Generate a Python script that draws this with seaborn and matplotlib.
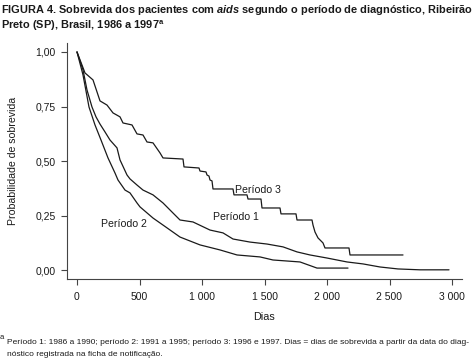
#!/usr/bin/env python3
"""
Kaplan-Meier survival of aids patients by diagnosis period (Ribeirao Preto, 1986-1997).
Values read off the published figure. Writes out.png.
"""

import matplotlib
matplotlib.use("Agg")
import matplotlib.pyplot as plt
from matplotlib import font_manager as fm
import pandas as pd
import seaborn as sns

# curve vertices (days, survival probability)
p1_days = [0, 48, 80, 120, 152, 184, 224, 264, 320, 344, 400, 424, 480, 528, 608, 688,
           768, 824, 928, 1064, 1168, 1248, 1384, 1520, 1648, 1760, 1864, 2000, 2160,
           2288, 2424, 2568, 2744, 2976]
p1_surv = [1.0, 0.918, 0.826, 0.748, 0.703, 0.670, 0.634, 0.597, 0.561, 0.506, 0.437,
           0.419, 0.391, 0.368, 0.346, 0.309, 0.263, 0.231, 0.222, 0.185, 0.172, 0.144,
           0.130, 0.121, 0.108, 0.085, 0.071, 0.057, 0.039, 0.030, 0.016, 0.007, 0.003,
           0.003]

p2_days = [0, 48, 96, 144, 192, 248, 304, 328, 384, 424, 480, 504, 608, 720, 824, 984,
           1144, 1280, 1464, 1568, 1784, 1920, 2168]
p2_surv = [1.0, 0.895, 0.748, 0.666, 0.597, 0.515, 0.446, 0.414, 0.368, 0.355, 0.309,
           0.291, 0.240, 0.195, 0.153, 0.117, 0.094, 0.071, 0.062, 0.048, 0.039, 0.011,
           0.011]

p3_days = [0, 64, 128, 184, 240, 288, 344, 368, 440, 480, 528, 560, 608, 664, 688,
           848, 856, 976, 984, 1032, 1040, 1056, 1064, 1080, 1088, 1248, 1256, 1360,
           1368, 1472, 1480, 1624, 1632, 1752, 1760, 1880, 1888, 1904, 1928, 1968,
           1984, 2176, 2184, 2608]
p3_surv = [1.0, 0.904, 0.872, 0.776, 0.757, 0.721, 0.703, 0.675, 0.666, 0.625, 0.620,
           0.588, 0.584, 0.538, 0.515, 0.510, 0.474, 0.469, 0.455, 0.451, 0.437, 0.432,
           0.414, 0.410, 0.373, 0.373, 0.346, 0.346, 0.327, 0.327, 0.286, 0.286, 0.259,
           0.259, 0.231, 0.231, 0.208, 0.176, 0.149, 0.126, 0.103, 0.103, 0.071, 0.071]

curve_labels = ["Período 1", "Período 2", "Período 3"]
label_pos = [(1088, 0.245), (192, 0.213), (1264, 0.368)]

x_ticks = [0, 500, 1000, 1500, 2000, 2500, 3000]
x_ticklabels = ["0", "500", "1 000", "1 500", "2 000", "2 500", "3 000"]
y_ticks = [0.0, 0.25, 0.5, 0.75, 1.0]
y_ticklabels = ["0,00", "0,25", "0,50", "0,75", "1,00"]

sns.set_style("ticks")

names = {f.name for f in fm.fontManager.ttflist}
base = "Liberation Sans" if "Liberation Sans" in names else "DejaVu Sans"

plt.rcParams["font.family"] = [base, "DejaVu Sans"]
plt.rcParams["mathtext.fontset"] = "custom"
plt.rcParams["mathtext.rm"] = f"{base}:bold"
plt.rcParams["mathtext.it"] = f"{base}:italic:bold"
plt.rcParams["mathtext.bf"] = f"{base}:bold"

ink = "#1a1a1a"
axis_col = "#444444"

df1 = pd.DataFrame({"Dias": p1_days, "S": p1_surv})
df2 = pd.DataFrame({"Dias": p2_days, "S": p2_surv})
df3 = pd.DataFrame({"Dias": p3_days, "S": p3_surv})

fig = plt.figure(figsize=(4.72, 3.63), dpi=100)
ax = fig.add_axes([67 / 472, 1 - 279 / 363, 395 / 472, 236 / 363])

for df in [df1, df2, df3]:
    sns.lineplot(data=df, x="Dias", y="S", ax=ax, color=ink, lw=0.9,
                 estimator=None, sort=False)

for txt, (tx, ty) in zip(curve_labels, label_pos):
    ax.text(tx, ty, txt, fontsize=7.6, color=ink, ha="left", va="center")

ax.set_xlim(-80, 3080)
ax.set_ylim(-0.039, 1.041)
ax.set_xticks(x_ticks)
ax.set_xticklabels(x_ticklabels)
ax.set_yticks(y_ticks)
ax.set_yticklabels(y_ticklabels)
ax.tick_params(axis="both", direction="out", length=4.5, width=0.8, color=axis_col,
               labelsize=7.5, labelcolor=ink)
ax.tick_params(axis="x", pad=5)
ax.tick_params(axis="y", pad=3.5)
for side in ["left", "bottom"]:
    ax.spines[side].set_linewidth(0.8)
    ax.spines[side].set_color(axis_col)
sns.despine(ax=ax)

ax.set_xlabel("Dias", fontsize=7.8, color=ink)
ax.set_ylabel("Probabilidade de sobrevida", fontsize=7.6, color=ink)
ax.xaxis.set_label_coords(0.5, -0.14)
ax.yaxis.set_label_coords(-0.124, 0.5)

fig.text(0.002, 1 - 13 / 363,
         r"FIGURA 4. Sobrevida dos pacientes com $\mathit{aids}$ segundo o período de diagnóstico, Ribeirão",
         fontsize=7.9, fontweight="bold", color=ink, va="baseline")
fig.text(0.002, 1 - 29 / 363, r"Preto (SP), Brasil, 1986 a 1997$^{\mathrm{a}}$",
         fontsize=7.9, fontweight="bold", color=ink, va="baseline")

fig.text(0.0, 1 - 339 / 363, "a", fontsize=5.5, color=ink, va="baseline")
fig.text(7 / 472, 1 - 344 / 363,
         "Período 1: 1986 a 1990; período 2: 1991 a 1995; período 3: 1996 e 1997. "
         "Dias = dias de sobrevida a partir da data do diag-",
         fontsize=6.0, color=ink, va="baseline")
fig.text(7 / 472, 1 - 356 / 363, "nóstico registrada na ficha de notificação.",
         fontsize=6.0, color=ink, va="baseline")

fig.savefig("out.png", dpi=100)
print("Saved out.png")
